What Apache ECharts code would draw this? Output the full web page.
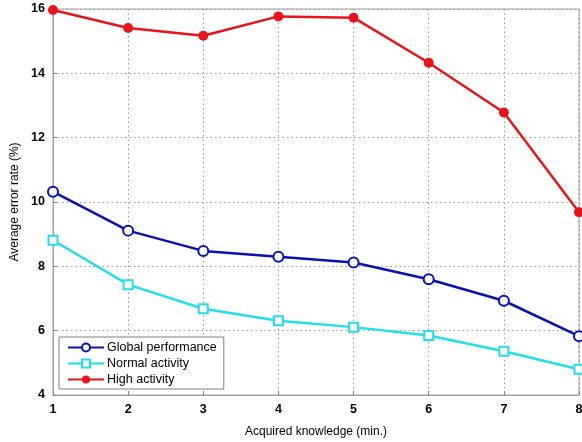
<!DOCTYPE html>
<html>
<head>
<meta charset="utf-8">
<script src="https://cdn.jsdelivr.net/npm/echarts@6/dist/echarts.min.js"></script>
<style>
  html, body { margin: 0; padding: 0; background: #fff; }
  #chart { width: 582px; height: 442px; }
</style>
</head>
<body>
<div id="chart"></div>
<script>
// Acquired knowledge in minutes
const knowledge = [1, 2, 3, 4, 5, 6, 7, 8];
// Average error rate (%) per series
const globalPerformance = [10.32, 9.11, 8.48, 8.30, 8.12, 7.60, 6.93, 5.83];
const normalActivity    = [8.81, 7.43, 6.68, 6.31, 6.11, 5.85, 5.36, 4.80];
const highActivity      = [15.97, 15.41, 15.17, 15.77, 15.73, 14.33, 12.78, 9.68];
const yTicks = [4, 6, 8, 10, 12, 14, 16];

const pairs = arr => knowledge.map((k, i) => [k, arr[i]]);
const font = 'Liberation Sans, Arial, sans-serif';

const chart = echarts.init(document.getElementById('chart'), null, { renderer: 'canvas' });
chart.setOption({
  animation: false,
  backgroundColor: '#fff',
  grid: {
    left: 53, right: 3, top: 9, bottom: 47,
    outerBoundsMode: 'none',
    show: true, borderColor: '#a0a0a0', borderWidth: 1
  },
  xAxis: {
    type: 'value', min: 1, max: 8, interval: 1,
    name: 'Acquired knowledge (min.)',
    nameLocation: 'middle', nameGap: 31,
    nameTextStyle: { fontFamily: font, fontSize: 12, color: '#000' },
    axisLine: { show: true, lineStyle: { color: '#a0a0a0' } },
    axisTick: { show: true, inside: true, length: 4, lineStyle: { color: '#808080' } },
    axisLabel: { fontFamily: font, fontSize: 12.5, fontWeight: 'bold', color: '#000', margin: 8 },
    splitLine: { show: true, lineStyle: { color: '#999', type: [1.5, 3], width: 1 } }
  },
  yAxis: {
    type: 'value', min: yTicks[0], max: yTicks[yTicks.length - 1], interval: 2,
    name: 'Average error rate (%)',
    nameLocation: 'middle', nameGap: 32,
    nameTextStyle: { fontFamily: font, fontSize: 12, color: '#000' },
    axisLine: { show: true, lineStyle: { color: '#a0a0a0' } },
    axisTick: { show: true, inside: true, length: 4, lineStyle: { color: '#808080' } },
    axisLabel: { fontFamily: font, fontSize: 12.5, fontWeight: 'bold', color: '#000', margin: 8 },
    splitLine: { show: true, lineStyle: { color: '#999', type: [1.5, 3], width: 1 } }
  },
  legend: {
    orient: 'vertical',
    left: 59, top: 337,
    backgroundColor: '#fff',
    borderColor: '#808080', borderWidth: 1,
    padding: [4, 7, 3, 8],
    itemGap: 3,
    itemWidth: 36, itemHeight: 10,
    textStyle: { fontFamily: font, fontSize: 12.5, color: '#000', padding: [0, 0, 0, -2] },
    data: ['Global performance', 'Normal activity', 'High activity']
  },
  series: [
    {
      name: 'Global performance', type: 'line', data: pairs(globalPerformance),
      symbol: 'emptyCircle', symbolSize: 10,
      lineStyle: { color: '#0a10b4', width: 2.5 },
      itemStyle: { color: '#0a10b4', borderWidth: 2 },
      z: 3
    },
    {
      name: 'Normal activity', type: 'line', data: pairs(normalActivity),
      symbol: 'emptyRect', symbolSize: 9,
      lineStyle: { color: '#22e0e6', width: 2.5 },
      itemStyle: { color: '#22e0e6', borderWidth: 2 },
      z: 2
    },
    {
      name: 'High activity', type: 'line', data: pairs(highActivity),
      symbol: 'circle', symbolSize: 10,
      lineStyle: { color: '#e8141c', width: 2.5 },
      itemStyle: { color: '#e8141c' },
      z: 4
    }
  ]
});
</script>
</body>
</html>
